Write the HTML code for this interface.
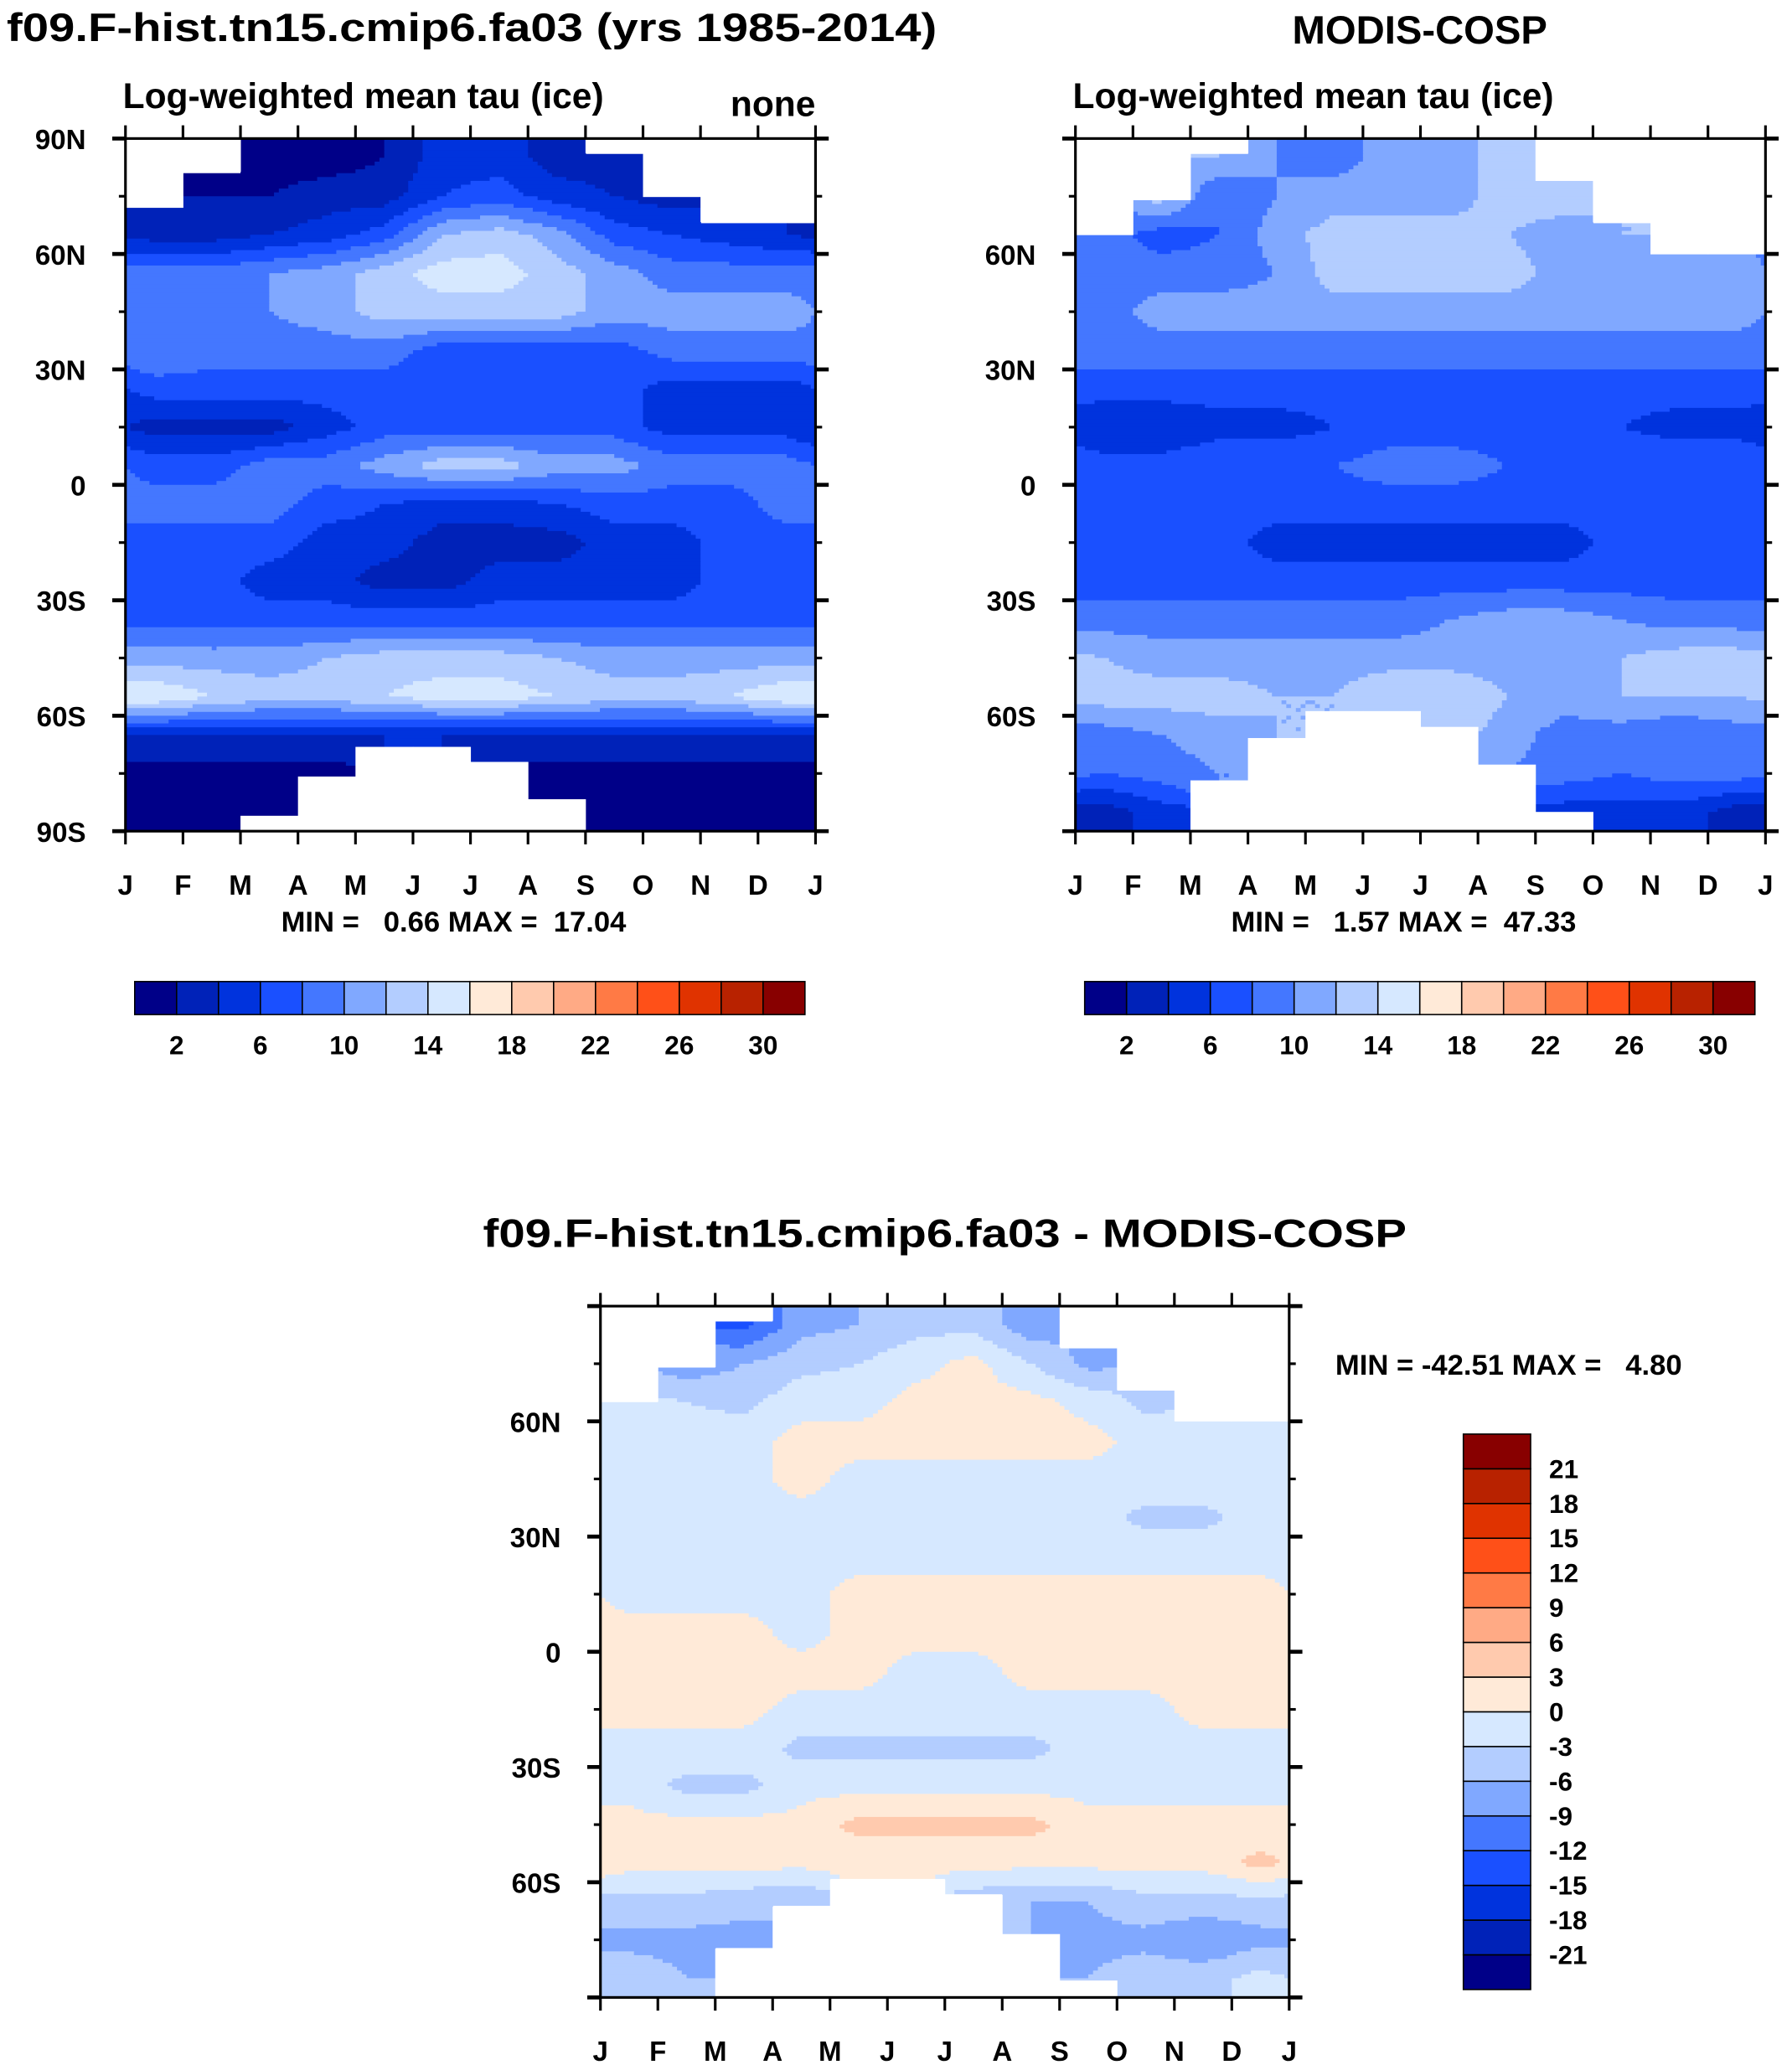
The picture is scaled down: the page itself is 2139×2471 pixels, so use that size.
<!DOCTYPE html>
<html><head><meta charset="utf-8">
<style>
html,body{margin:0;padding:0;background:#fff;}
svg{display:block;font-family:"Liberation Sans",Arial,sans-serif;font-weight:bold;}
text{white-space:pre;}
</style></head>
<body>
<svg id="fig" xmlns="http://www.w3.org/2000/svg" width="2139" height="2471" viewBox="0 0 1358 1569">
<rect width="1358" height="1569" fill="#fff"/>
<text x="5" y="31" font-size="30" textLength="705" lengthAdjust="spacingAndGlyphs">f09.F-hist.tn15.cmip6.fa03 (yrs 1985-2014)</text>
<text x="1076" y="33" font-size="30" text-anchor="middle">MODIS-COSP</text>
<text x="716" y="945" font-size="30" text-anchor="middle" textLength="700" lengthAdjust="spacingAndGlyphs">f09.F-hist.tn15.cmip6.fa03 - MODIS-COSP</text>
<g id="layer"></g>
</svg>
<script>
const months=['J','F','M','A','M','J','J','A','S','O','N','D','J'];
const latCenters=[85,75,65,55,45,35,25,15,5,-5,-15,-25,-35,-45,-55,-65,-75,-85];
const N=NaN;
const modelVals=[
[N,1,1,1,2,5,5,3,3,N,N,N],
[N,2,2,3,3,6,7,5,4,3,N,N],
[3,3,4,5,7,12,13,11,7,6,5,4],
[9,9,10,11,13,15,15,13,11,9,9,9],
[9,9,10,11,13,13,13,13,11,11,11,11],
[10,9,9,9,9,7,7,7,7,9,9,9],
[7,7,7,7,7,7,7,7,7,5,5,5],
[3,3,3,5,7,7,7,7,7,5,5,5],
[7,7,9,9,11,13,13,11,11,9,9,9],
[9,9,9,7,6,5,5,6,7,7,7,9],
[7,7,7,5,5,3,3,3,5,5,7,7],
[7,7,5,5,3,3,5,5,5,5,7,7],
[7,7,7,7,7,7,7,7,7,7,7,7],
[11,11,11,12,13,13,13,12,11,11,11,11],
[16,14,13,13,14,15,15,14,13,13,14,16],
[4,4,4,4,4,4,4,4,4,4,4,4],
[1,1,1,1,N,N,1,1,1,1,1,1],
[1,1,1,N,N,N,N,1,1,1,1,1]];
const modelNorthLimit=[72,81.3,90,90,90,90,90,90,86.2,74.8,68.3,68.3];
const modelSouthLimit=[-90,-90,-86,-75.8,-68.1,-68.1,-72,-81.7,-90,-90,-90,-90];
const obsVals=[
[N,N,12,10,9,11,11,13,N,N,N,N],
[N,13,8,10,11,11,11,13,13,N,N,N],
[9,7,8,11,13,13,13,12,11,12,N,N],
[9,9,9,10,13,13,13,13,11,11,11,11],
[9,11,11,11,11,11,11,11,11,11,11,11],
[9,9,9,9,9,9,9,9,9,9,9,9],
[7,7,7,7,7,7,7,7,7,7,7,7],
[4,4,5,5,6,7,7,7,7,6,5,5],
[7,7,8,8,8,9,9,8,8,8,8,8],
[7,7,7,7,7,7,7,7,7,7,7,7],
[7,7,7,5,5,5,5,5,5,7,7,7],
[7,7,7,7,7,7,7,7,7,7,7,7],
[9,9,9,9,9,9,10,11,11,10,9,9],
[12,11,11,11,11,11,11,11,11,12,13,13],
[13,13,13,12,12,14,14,12,11,12,12,12],
[9,10,11,12,N,N,13,11,9,9,8,9],
[8,9,10,N,N,N,N,N,9,8,9,9],
[3,5,N,N,N,N,N,N,5,5,5,3]];
const obsNorthLimit=[64.9,74,86.1,90,90,90,90,90,79,68.2,59.9,59.9];
const obsSouthLimit=[-90,-90,-76.8,-65.8,-58.8,-58.8,-62.9,-72.7,-85,-90,-90,-90];
const diffVals=[
[N,N,-13,-7,-6,-4,-4,-8,N,N,N,N],
[N,-8,-6,-4,-3,-1,1,-3,-7,N,N,N],
[-2,-3,-4,-1,-1,1,1,1,-1,-4,N,N],
[-1,-1,-1,1,1,1,1,1,1,-1,-1,-1],
[-1,-1,-1,1,-1,-1,-1,-1,-1,-1,-1,-1],
[-1,-1,-1,-1,-1,-1,-1,-1,-1,-4,-4,-1],
[-1,-1,-1,-1,-1,-1,-1,-1,-1,-1,-1,-1],
[-1,-1,-1,-1,1,1,1,1,1,1,1,1],
[1,1,1,-1,1,1,1,1,1,1,1,1],
[1,1,1,1,1,-1,-1,1,1,1,1,1],
[1,1,1,-1,-1,-1,-1,-1,-1,-1,1,1],
[-1,-1,-1,-4,-4,-4,-4,-4,-1,-1,-1,-1],
[-1,-4,-4,-1,-1,-1,-1,-1,-1,-1,-1,-1],
[1,1,1,1,4,4,4,4,1,1,1,1],
[1,1,1,1,1,1,1,1,1,1,1,4],
[-4,-4,-5,-6,N,N,-5,-6,-6,-4,-4,-4],
[-7,-7,-7,N,N,N,N,N,-7,-7,-9,-7],
[-4,-6,N,N,N,N,N,N,-6,-4,-4,-2]];
const diffNorthLimit=[65.1,74.1,86.2,90,90,90,90,90,79.3,68.1,60,60];
const diffSouthLimit=[-90,-90,-77.3,-66.4,-59.3,-59.3,-63.3,-73.5,-85.6,-90,-90,-90];
const absLevelLabels=['2','6','10','14','18','22','26','30'];
const diffLevelLabels=['21','18','15','12','9','6','3','0','-3','-6','-9','-12','-15','-18','-21'];
const yTickLabels=['90N','60N','30N','0','30S','60S','90S'];
const palette=['#000088','#0022b8','#0033dd','#1a50ff','#4477ff','#80a8ff','#b3cdff','#d6e8ff','#ffead8','#ffcaae','#ffaa85','#ff7a45','#ff5018','#e03300','#b82200','#880000'];
const NS='http://www.w3.org/2000/svg';
const layer=document.getElementById('layer');
function mk(tag,attrs,parent){const e=document.createElementNS(NS,tag);for(const k in attrs)e.setAttribute(k,attrs[k]);(parent||layer).appendChild(e);return e;}

function sample(vals,lat,mf){
  let ri=(85-lat)/10; ri=Math.max(0,Math.min(17,ri));
  let ci=mf-0.5;
  const r0=Math.floor(ri), r1=Math.min(17,r0+1), fr=ri-r0;
  const c0f=Math.floor(ci), fc=ci-c0f;
  const c0=((c0f%12)+12)%12, c1=(c0+1)%12;
  let s=0,w=0;
  [[r0,c0,(1-fr)*(1-fc)],[r0,c1,(1-fr)*fc],[r1,c0,fr*(1-fc)],[r1,c1,fr*fc]].forEach(([r,c,ww])=>{
    const v=vals[r][c]; if(!isNaN(v)&&ww>0){s+=v*ww;w+=ww;}
  });
  if(w>0)return s/w;
  const nr=Math.round(ri), nc=((Math.round(ci)%12)+12)%12;
  return vals[nr][nc];
}

function panel(px,py,w,h,vals,nLim,sLim,binFn,showYLabels,id,titleL,titleR){
  const g=mk('g',{});
  
  
  const xs=m=>px+m*w/12;
  const ys=lat=>py+(90-lat)*h/180;
  const dLat=1, dM=1/12;
  const nSteps=Math.round(12/dM);
  for(let lat=90;lat>-90+1e-6;lat-=dLat){
    const latc=lat-dLat/2;
    let runStart=0, runBin=null;
    for(let k=0;k<=nSteps;k++){
      let b=null;
      if(k<nSteps){
        const mf=(k+0.5)*dM, col=Math.floor(mf);
        if(latc>nLim[col]||latc<sLim[col]) b=-1;
        else {const v=sample(vals,latc,mf); b=isNaN(v)?-1:binFn(v);}
      }
      if(b!==runBin||k===nSteps){
        if(runBin!==null&&runBin>=0){
          const r=mk('rect',{x:xs(runStart*dM),y:ys(lat),width:(k-runStart)*dM*w/12+0.4,height:dLat*h/180+0.4,fill:palette[runBin]},g);
          
          
        }
        runStart=k; runBin=b;
      }
    }
  }
  // clip mask edges exactly
  for(let c=0;c<12;c++){
    if(nLim[c]<90) mk('rect',{x:xs(c),y:py,width:w/12+0.3,height:ys(nLim[c])-py,fill:'#fff'},g);
    if(sLim[c]>-90) mk('rect',{x:xs(c),y:ys(sLim[c]),width:w/12+0.3,height:py+h-ys(sLim[c]),fill:'#fff'},g);
  }
  mk('rect',{x:px,y:py,width:w,height:h,fill:'none',stroke:'#000','stroke-width':2},g);
  for(let m=0;m<=12;m++){
    mk('line',{x1:xs(m),x2:xs(m),y1:py,y2:py-10,stroke:'#000','stroke-width':2},g);
    mk('line',{x1:xs(m),x2:xs(m),y1:py+h,y2:py+h+10,stroke:'#000','stroke-width':2},g);
    const t=mk('text',{x:xs(m),y:py+h+48,'font-size':21,'text-anchor':'middle'},g);
    t.textContent=months[m];
    
    
  }
  for(let lat=90;lat>=-90;lat-=15){
    const major=lat%30===0;
    const L=major?10:5;
    mk('line',{x1:px-L,x2:px,y1:ys(lat),y2:ys(lat),stroke:'#000','stroke-width':major?3:2},g);
    mk('line',{x1:px+w,x2:px+w+L,y1:ys(lat),y2:ys(lat),stroke:'#000','stroke-width':major?3:2},g);
    if(major&&(showYLabels||(lat<90&&lat>-90))){
      const t=mk('text',{x:px-30,y:ys(lat)+8,'font-size':21,'text-anchor':'end'},g);
      t.textContent=yTickLabels[(90-lat)/30];
      
      
    }
  }
  if(titleL){const t=mk('text',{x:px-2,y:py-23,'font-size':27},g);t.textContent=titleL;}
  if(titleR){const t=mk('text',{x:px+w,y:py-17,'font-size':27,'text-anchor':'end'},g);t.textContent=titleR;}
}
const absBin=v=>Math.max(0,Math.min(15,Math.floor(v/2)));
const diffBin=v=>Math.max(0,Math.min(15,Math.floor((v+24)/3)));
panel(95,105,523,525,modelVals,modelNorthLimit,modelSouthLimit,absBin,true,'model','Log-weighted mean tau (ice)','none');
panel(815,105,523,525,obsVals,obsNorthLimit,obsSouthLimit,absBin,false,'obs','Log-weighted mean tau (ice)',null);
panel(455,990,522,524,diffVals,diffNorthLimit,diffSouthLimit,diffBin,false,'diff',null,null);

function stat(x,y,s,name){const t=mk('text',{x:x,y:y,'font-size':22});t.textContent=s;}
stat(213,706,'MIN =   0.66 MAX =  17.04','model-min-max');
stat(933,706,'MIN =   1.57 MAX =  47.33','obs-min-max');
stat(1012,1042,'MIN = -42.51 MAX =   4.80','diff-min-max');

function hbar(x0,y0,w,h,name){
  const g=mk('g',{});
  
  
  const bw=w/16;
  palette.forEach((c,i)=>{mk('rect',{x:x0+i*bw,y:y0,width:bw,height:h,fill:c,stroke:'#000','stroke-width':1},g);});
  absLevelLabels.forEach((l,i)=>{const t=mk('text',{x:x0+(1+2*i)*bw,y:y0+h+30,'font-size':20,'text-anchor':'middle'},g);t.textContent=l;});
}
hbar(102,744,508,25,'model-colorbar');
hbar(822,744,508,25,'obs-colorbar');
(function(){
  const g=mk('g',{});
  
  
  const x0=1109,y0=1087,w=51,H=421,bh=H/16;
  palette.forEach((c,i)=>{mk('rect',{x:x0,y:y0+(15-i)*bh,width:w,height:bh,fill:c,stroke:'#000','stroke-width':1},g);});
  diffLevelLabels.forEach((l,i)=>{const t=mk('text',{x:x0+w+14,y:y0+(i+1)*bh+7,'font-size':20},g);t.textContent=l;});
})();
</script>
</body></html>
